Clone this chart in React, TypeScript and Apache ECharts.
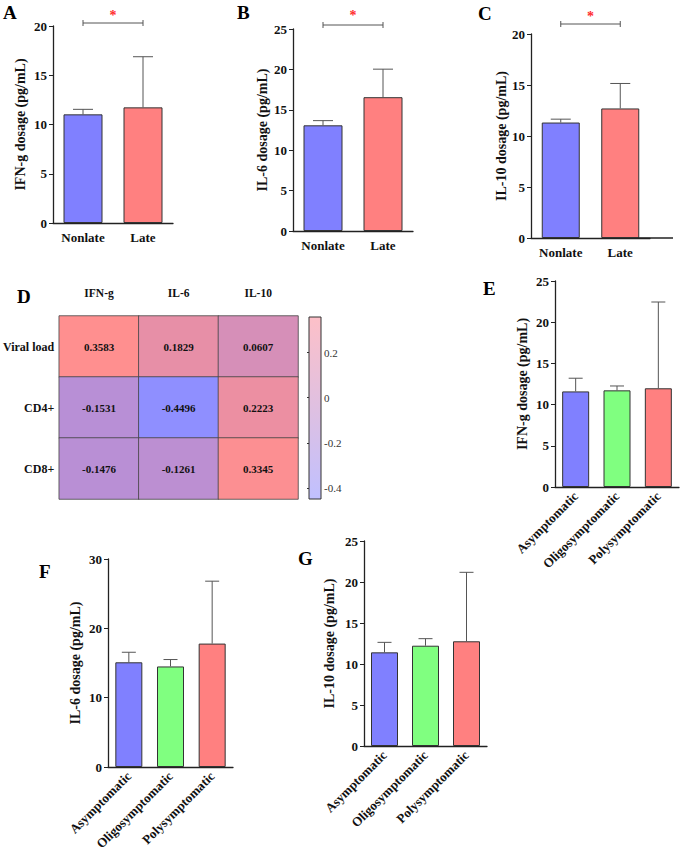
import React, { useEffect, useRef } from "react";
import * as echarts from "echarts";

const FONT = "'Liberation Serif', 'Times New Roman', serif";

// ---- data ----
const lateGroups = ["Nonlate", "Late"];
const symptomGroups = ["Asymptomatic", "Oligosymptomatic", "Polysymptomatic"];

const ifnLateMean = [11.03, 11.74];
const ifnLateUpper = [11.54, 16.88];
const il6LateMean = [13.08, 16.56];
const il6LateUpper = [13.66, 20.03];
const il10LateMean = [11.32, 12.7];
const il10LateUpper = [11.65, 15.15];

const ifnSymMean = [11.6, 11.73, 11.98];
const ifnSymUpper = [13.2, 12.26, 22.45];
const il6SymMean = [15.1, 14.5, 17.8];
const il6SymUpper = [16.55, 15.5, 26.8];
const il10SymMean = [11.42, 12.23, 12.77];
const il10SymUpper = [12.64, 13.09, 21.18];

const cytokines = ["IFN-g", "IL-6", "IL-10"];
const markers = ["Viral load", "CD4+", "CD8+"];
const corrViral = [0.3583, 0.1829, 0.0607];
const corrCD4 = [-0.1531, -0.4496, 0.2223];
const corrCD8 = [-0.1476, -0.1261, 0.3345];
const colorbarTicks = [-0.4, -0.2, 0, 0.2];

const twoColors = ["#8080ff", "#ff8080"];
const threeColors = ["#8080ff", "#80ff80", "#ff8080"];

type Panel = {
  cats: string[];
  mean: number[];
  upper: number[];
  colors: string[];
  max: number;
  interval: number;
  name: string;
  grid: { left: number; top: number; width: number; height: number };
  barWidth: number;
  capHalf: number;
  nameGap: number;
  rotate: number;
  axisExtra?: number;
  bracket?: { dy: number; starDy: number };
};

const panels: Panel[] = [
  { cats: lateGroups, mean: ifnLateMean, upper: ifnLateUpper, colors: twoColors, max: 20, interval: 5, name: "IFN-g dosage (pg/mL)", grid: { left: 53, top: 26, width: 120, height: 197 }, barWidth: 39, capHalf: 10, nameGap: 26, rotate: 0, bracket: { dy: 3, starDy: 11 } },
  { cats: lateGroups, mean: il6LateMean, upper: il6LateUpper, colors: twoColors, max: 25, interval: 5, name: "IL-6 dosage (pg/mL)", grid: { left: 293, top: 29, width: 120, height: 202 }, barWidth: 39, capHalf: 10, nameGap: 24, rotate: 0, bracket: { dy: 4, starDy: 13 } },
  { cats: lateGroups, mean: il10LateMean, upper: il10LateUpper, colors: twoColors, max: 20, interval: 5, name: "IL-10 dosage (pg/mL)", grid: { left: 531, top: 34, width: 119, height: 204 }, barWidth: 38, capHalf: 10, nameGap: 21, rotate: 0, axisExtra: 23, bracket: { dy: 10, starDy: 11 } },
  { cats: symptomGroups, mean: ifnSymMean, upper: ifnSymUpper, colors: threeColors, max: 25, interval: 5, name: "IFN-g dosage (pg/mL)", grid: { left: 555, top: 281, width: 124, height: 206 }, barWidth: 27, capHalf: 7, nameGap: 26, rotate: 45 },
  { cats: symptomGroups, mean: il6SymMean, upper: il6SymUpper, colors: threeColors, max: 30, interval: 10, name: "IL-6 dosage (pg/mL)", grid: { left: 108, top: 559, width: 125, height: 208 }, barWidth: 27, capHalf: 7, nameGap: 26, rotate: 45 },
  { cats: symptomGroups, mean: il10SymMean, upper: il10SymUpper, colors: threeColors, max: 25, interval: 5, name: "IL-10 dosage (pg/mL)", grid: { left: 364, top: 541, width: 123, height: 205 }, barWidth: 27, capHalf: 7, nameGap: 28, rotate: 45 },
];

const letters = [
  { t: "A", x: 3, y: 12.5 },
  { t: "B", x: 237, y: 12.5 },
  { t: "C", x: 478, y: 13.5 },
  { t: "D", x: 17, y: 296 },
  { t: "E", x: 483, y: 288 },
  { t: "F", x: 39, y: 571 },
  { t: "G", x: 298, y: 558 },
];

function buildOption() {
  const grid: any[] = [];
  const xAxis: any[] = [];
  const yAxis: any[] = [];
  const series: any[] = [];
  const graphic: any[] = [];

  panels.forEach((p, i) => {
    grid.push({ ...p.grid });
    if (p.axisExtra) {
      const g = p.grid;
      graphic.push({
        type: "line",
        z: 10,
        shape: { x1: g.left + g.width - 12, y1: g.top + g.height, x2: g.left + g.width + p.axisExtra, y2: g.top + g.height },
        style: { stroke: "#222", lineWidth: 1.3 },
      });
    }
    xAxis.push({
      type: "category",
      gridIndex: i,
      data: p.cats,
      axisLine: { lineStyle: { color: "#222", width: 1.3 } },
      axisTick: { alignWithLabel: true, length: 4, lineStyle: { color: "#222" } },
      axisLabel: {
        fontFamily: FONT,
        fontWeight: "bold",
        fontSize: 13,
        color: "#111",
        margin: p.rotate ? 7 : 8,
        rotate: p.rotate,
        interval: 0,
      },
      splitLine: { show: false },
    });
    yAxis.push({
      type: "value",
      gridIndex: i,
      min: 0,
      max: p.max,
      interval: p.interval,
      name: p.name,
      nameLocation: "middle",
      nameGap: p.nameGap,
      nameTextStyle: { fontFamily: FONT, fontWeight: "bold", fontSize: 14, color: "#111" },
      axisLine: { show: true, lineStyle: { color: "#222", width: 1.3 } },
      axisTick: { show: true, length: 4, lineStyle: { color: "#222" } },
      axisLabel: { fontFamily: FONT, fontWeight: "bold", fontSize: 13, color: "#111", margin: 6 },
      splitLine: { show: false },
    });
    series.push({
      type: "bar",
      xAxisIndex: i,
      yAxisIndex: i,
      barWidth: p.barWidth,
      data: p.mean.map((v, k) => ({
        value: v,
        itemStyle: { color: p.colors[k], borderColor: "#333", borderWidth: 1 },
      })),
    });
    const cap = p.capHalf;
    series.push({
      type: "custom",
      xAxisIndex: i,
      yAxisIndex: i,
      z: 5,
      encode: { x: 0, y: [1, 2] },
      data: p.mean.map((v, k) => [k, v, p.upper[k]]),
      renderItem: (params: any, api: any) => {
        const x = api.value(0);
        const a = api.coord([x, api.value(1)]);
        const b = api.coord([x, api.value(2)]);
        const st = { stroke: "#555", lineWidth: 1 };
        return {
          type: "group",
          children: [
            { type: "line", shape: { x1: a[0], y1: a[1], x2: b[0], y2: b[1] }, style: st },
            { type: "line", shape: { x1: b[0] - cap, y1: b[1], x2: b[0] + cap, y2: b[1] }, style: st },
          ],
        };
      },
    });
    if (p.bracket) {
      const br = p.bracket;
      const top = p.max;
      series.push({
        type: "custom",
        xAxisIndex: i,
        yAxisIndex: i,
        z: 6,
        clip: false,
        data: [[0, 1, top]],
        renderItem: (params: any, api: any) => {
          const a = api.coord([api.value(0), api.value(2)]);
          const b = api.coord([api.value(1), api.value(2)]);
          const y = a[1] - br.dy;
          const st = { stroke: "#555", lineWidth: 1 };
          return {
            type: "group",
            children: [
              { type: "line", shape: { x1: a[0], y1: y, x2: b[0], y2: y }, style: st },
              { type: "line", shape: { x1: a[0], y1: y - 3, x2: a[0], y2: y + 3 }, style: st },
              { type: "line", shape: { x1: b[0], y1: y - 3, x2: b[0], y2: y + 3 }, style: st },
              {
                type: "text",
                x: (a[0] + b[0]) / 2,
                y: y - br.starDy + 3,
                style: { text: "*", fill: "#ff2b2b", font: `bold 14px ${FONT}`, align: "center", verticalAlign: "middle" },
              },
            ],
          };
        },
      });
    }
  });

  // heatmap panel D
  const hIdx = grid.length;
  grid.push({ left: 59, top: 316, width: 239, height: 183 });
  xAxis.push({
    type: "category",
    gridIndex: hIdx,
    data: cytokines,
    position: "top",
    axisLine: { show: false },
    axisTick: { show: false },
    axisLabel: { fontFamily: FONT, fontWeight: "bold", fontSize: 11.5, color: "#111", margin: 17 },
    splitArea: { show: false },
  });
  yAxis.push({
    type: "category",
    gridIndex: hIdx,
    data: markers,
    inverse: true,
    axisLine: { show: false },
    axisTick: { show: false },
    axisLabel: { fontFamily: FONT, fontWeight: "bold", fontSize: 12, color: "#111", margin: 5 },
    splitArea: { show: false },
  });
  const heatData: any[] = [];
  [corrViral, corrCD4, corrCD8].forEach((row, r) => row.forEach((v, c) => heatData.push([c, r, v])));
  const heatSeriesIndex = series.length;
  series.push({
    type: "heatmap",
    xAxisIndex: hIdx,
    yAxisIndex: hIdx,
    data: heatData,
    itemStyle: { borderColor: "#444", borderWidth: 0.8 },
    label: {
      show: true,
      fontFamily: FONT,
      fontWeight: "bold",
      fontSize: 11,
      color: "#111",
      formatter: (p: any) => p.value[2].toFixed(4),
    },
    emphasis: { disabled: true },
  });

  // colorbar axis
  const cIdx = grid.length;
  const allCorr = [...corrViral, ...corrCD4, ...corrCD8];
  const cmin = Math.min(...allCorr);
  const cmax = Math.max(...allCorr);
  grid.push({ left: 309, top: 317, width: 12, height: 182 });
  xAxis.push({ type: "value", gridIndex: cIdx, show: false, min: 0, max: 1 });
  yAxis.push({
    type: "value",
    gridIndex: cIdx,
    position: "right",
    min: cmin,
    max: cmax,
    axisLine: { show: false },
    splitLine: { show: false },
    axisTick: { show: true, inside: true, length: 2, customValues: colorbarTicks, lineStyle: { color: "#333" } },
    axisLabel: {
      customValues: colorbarTicks,
      fontFamily: FONT,
      fontSize: 11,
      color: "#333",
      margin: 3,
      formatter: (v: number) => String(Math.round(v * 10) / 10),
    },
  });

  letters.forEach((l) =>
    graphic.push({
      type: "text",
      x: l.x,
      y: l.y,
      style: { text: l.t, font: `bold 19px ${FONT}`, fill: "#000", verticalAlign: "middle" },
    })
  );
  graphic.push({
    type: "rect",
    shape: { x: 309, y: 317, width: 12, height: 182 },
    z: -1,
    style: {
      fill: new echarts.graphic.LinearGradient(0, 0, 0, 1, [
        { offset: 0, color: "#fdc0c8" },
        { offset: 0.55, color: "#dcc0e4" },
        { offset: 1, color: "#c0c0ff" },
      ]),
      stroke: "#333",
      lineWidth: 1,
    },
  });

  return {
    animation: false,
    backgroundColor: "#fff",
    grid,
    xAxis,
    yAxis,
    series,
    graphic,
    visualMap: {
      type: "continuous",
      show: false,
      seriesIndex: heatSeriesIndex,
      min: cmin,
      max: cmax,
      dimension: 2,
      inRange: { color: ["#8f8fff", "#ff8f8f"] },
    },
  };
}

export default function App() {
  const ref = useRef<HTMLDivElement>(null);
  useEffect(() => {
    document.body.style.margin = "0";
    if (!ref.current) return;
    const chart = echarts.init(ref.current, undefined, { renderer: "svg" });
    chart.setOption(buildOption() as any);
    return () => chart.dispose();
  }, []);
  return <div ref={ref} style={{ width: 681, height: 854 }} />;
}
